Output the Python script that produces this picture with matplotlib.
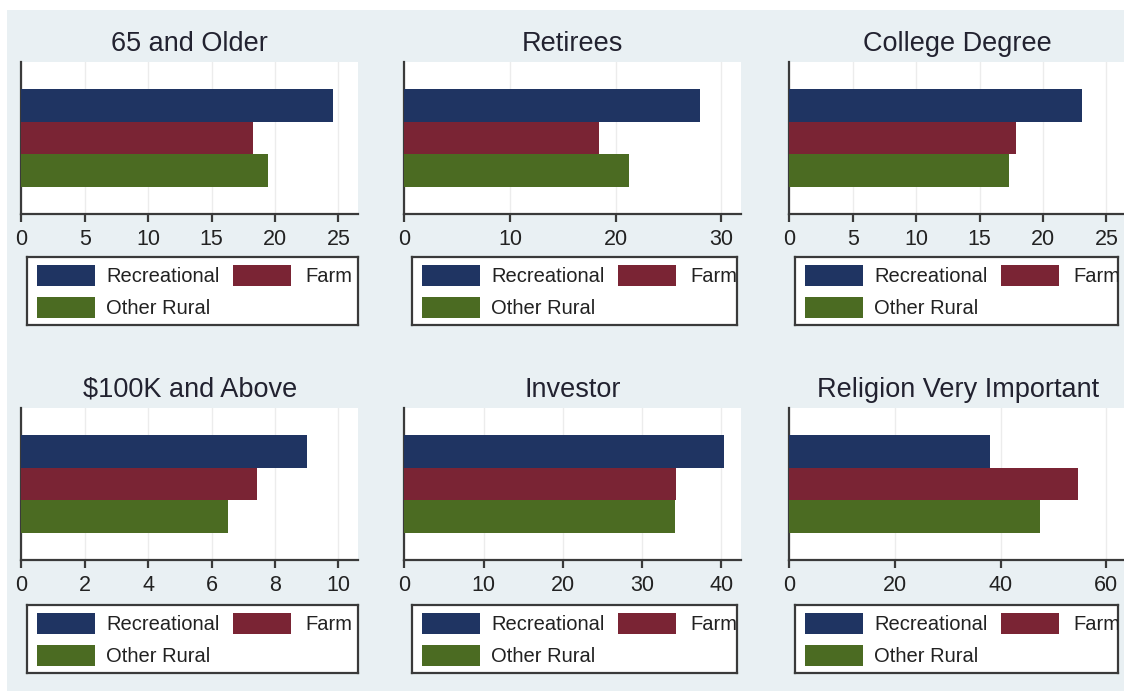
import numpy as np
import matplotlib as mpl
mpl.use('Agg')
import matplotlib.pyplot as plt
from matplotlib.patches import Rectangle

plt.rcParams['font.family'] = ['Liberation Sans', 'DejaVu Sans']

# ---- data (percent) ----
titles = ["65 and Older", "Retirees", "College Degree",
          "$100K and Above", "Investor", "Religion Very Important"]
series = ["Recreational", "Farm", "Other Rural"]
recreational = [24.55, 27.97, 23.1, 9.01, 40.4, 37.9]
farm = [18.3, 18.47, 17.9, 7.43, 34.3, 54.7]
other_rural = [19.48, 21.3, 17.35, 6.51, 34.1, 47.5]
xticks = [[0, 5, 10, 15, 20, 25],
          [0, 10, 20, 30],
          [0, 5, 10, 15, 20, 25],
          [0, 2, 4, 6, 8, 10],
          [0, 10, 20, 30, 40],
          [0, 20, 40, 60]]

colors = ['#1f3462', '#7a2434', '#4b6b22']
bg = '#e9f0f3'

W, H = 1124, 691
fig = plt.figure(figsize=(W / 100, H / 100), dpi=100, facecolor='white')
fig.patches.append(Rectangle((7 / W, 0), 1, 1 - 10 / H, transform=fig.transFigure,
                             facecolor=bg, edgecolor='none', zorder=-10))

def px(x, y, w, h):
    # pixel box (top-left origin) -> figure fraction
    return [x / W, 1 - (y + h) / H, w / W, h / H]

col_left = [21.3, 404.3, 789.3]
row_top = [62, 408]
leg_left = [27, 412, 795]
leg_w = [331, 325, 323]
leg_top = [257, 605]

for i, t in enumerate(titles):
    r, c = divmod(i, 3)
    ax = fig.add_axes(px(col_left[c], row_top[r], 337, 152))
    vals = [recreational[i], farm[i], other_rural[i]]
    ax.barh([0, 1, 2], vals, height=1.0, color=colors, edgecolor='none', zorder=3)
    ax.set_ylim(3.34, -1.34)
    ax.set_xlim(0, xticks[i][-1] * 1.063)
    ax.set_xticks(xticks[i])
    ax.set_yticks([])
    ax.set_facecolor('white')
    for s in ['top', 'right']:
        ax.spines[s].set_visible(False)
    for s in ['left', 'bottom']:
        ax.spines[s].set_color('#3a3a3a')
        ax.spines[s].set_linewidth(1.6)
    ax.tick_params(axis='x', direction='out', length=6, width=1.6, color='#3a3a3a',
                   labelsize=15.5, labelcolor='#222222', pad=5)
    ax.grid(axis='x', color='#ececec', linewidth=1.0, zorder=0)
    ax.set_title(t, fontsize=19.5, color='#222230', pad=8, parse_math=False)

    # legend box drawn like Stata's
    lg = fig.add_axes(px(leg_left[c], leg_top[r], leg_w[c], 68))
    lg.set_xlim(0, leg_w[c])
    lg.set_ylim(68, 0)
    lg.set_xticks([])
    lg.set_yticks([])
    lg.set_facecolor('white')
    for s in lg.spines.values():
        s.set_color('#3a3a3a')
        s.set_linewidth(1.6)
    slots = [(10, 8, 79), (206, 8, 278), (10, 40, 79)]
    for (kx, ky, tx), name, col in zip(slots, series, colors):
        lg.add_patch(Rectangle((kx, ky), 58, 21, facecolor=col, edgecolor='none'))
        lg.text(tx, ky + 12, name, fontsize=14.5, color='#222222', va='center',
                ha='left', clip_on=True)

fig.savefig('out.png', dpi=100, facecolor=fig.get_facecolor())
